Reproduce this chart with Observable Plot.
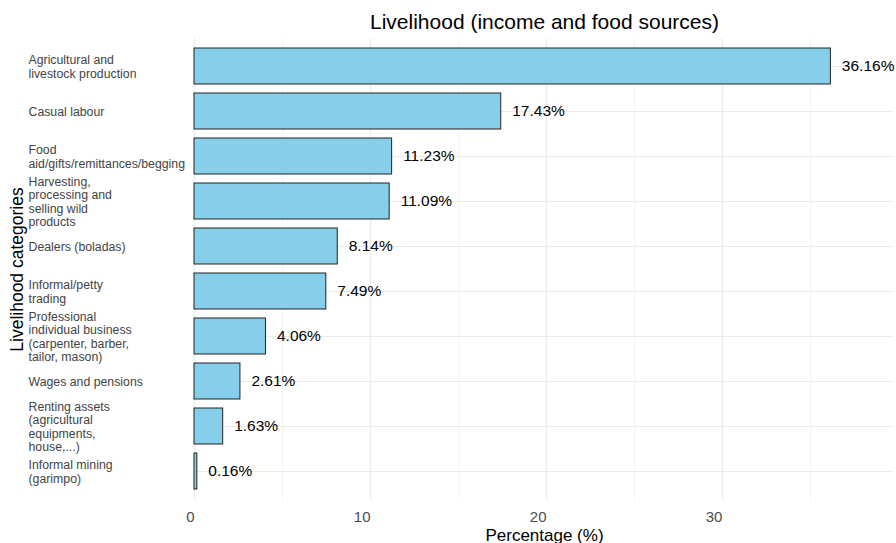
<!DOCTYPE html>
<html>
<head>
<meta charset="utf-8">
<script src="https://cdn.jsdelivr.net/npm/d3@7"></script>
<script src="https://cdn.jsdelivr.net/npm/@observablehq/plot@0.6"></script>
<style>
  html, body { margin: 0; padding: 0; background: #fff; }
  svg { font-family: "Liberation Sans", Arial, sans-serif; }
</style>
</head>
<body>
<div id="chart"></div>
<script>
const categories = [
  "Agricultural and\nlivestock production",
  "Casual labour",
  "Food\naid/gifts/remittances/begging",
  "Harvesting,\nprocessing and\nselling wild\nproducts",
  "Dealers (boladas)",
  "Informal/petty\ntrading",
  "Professional\nindividual business\n(carpenter, barber,\ntailor, mason)",
  "Wages and pensions",
  "Renting assets\n(agricultural\nequipments,\nhouse,...)",
  "Informal mining\n(garimpo)"
];
const values = [36.16, 17.43, 11.23, 11.09, 8.14, 7.49, 4.06, 2.61, 1.63, 0.16];
const majorTicks = [0, 10, 20, 30];
const minorTicks = [5, 15, 25, 35];
const titleText = "Livelihood (income and food sources)";
const xLabel = "Percentage (%)";
const yLabel = "Livelihood categories";

const data = categories.map((c, i) => ({category: c, value: values[i]}));
const xMax = d3.max(values) * 1.1;

const chart = Plot.plot({
  width: 896,
  height: 543,
  marginLeft: 194,
  marginRight: 2,
  marginTop: 38,
  marginBottom: 43,
  style: {fontFamily: "'Liberation Sans', Arial, sans-serif", background: "#fff"},
  x: {domain: [0, xMax], axis: null},
  y: {domain: categories, padding: 0.2, axis: null},
  marks: [
    Plot.ruleX(minorTicks, {stroke: "#ebebeb", strokeWidth: 0.6}),
    Plot.ruleX(majorTicks, {stroke: "#ebebeb", strokeWidth: 1.2}),
    Plot.ruleY(categories, {y: d => d, stroke: "#ebebeb", strokeWidth: 1.2}),
    Plot.barX(data, {x: "value", y: "category", fill: "#87CEEB", stroke: "#222", strokeWidth: 1}),
    Plot.text(data, {x: "value", y: "category", text: d => d.value.toFixed(2) + "%", textAnchor: "start", dx: 11, fontSize: 15.5, fill: "#000"}),
    Plot.axisY({tickSize: 0, tickPadding: 0, textAnchor: "start", dx: -166, fontSize: 12.3, fill: "#444", lineHeight: 1.1, label: null}),
    Plot.axisX(majorTicks, {tickSize: 0, tickPadding: 11, fontSize: 15, fill: "#4d4d4d", textAnchor: "end", dx: 0, label: null}),
    Plot.text([titleText], {frameAnchor: "top", dy: -10, lineAnchor: "bottom", fontSize: 21, fill: "#000"}),
    Plot.text([xLabel], {frameAnchor: "bottom", dy: 40, lineAnchor: "bottom", fontSize: 17, fill: "#000"}),
    Plot.text([yLabel], {frameAnchor: "left", dx: -177, rotate: -90, textAnchor: "middle", fontSize: 17.5, fill: "#000"})
  ]
});
document.getElementById("chart").appendChild(chart);
</script>
</body>
</html>
